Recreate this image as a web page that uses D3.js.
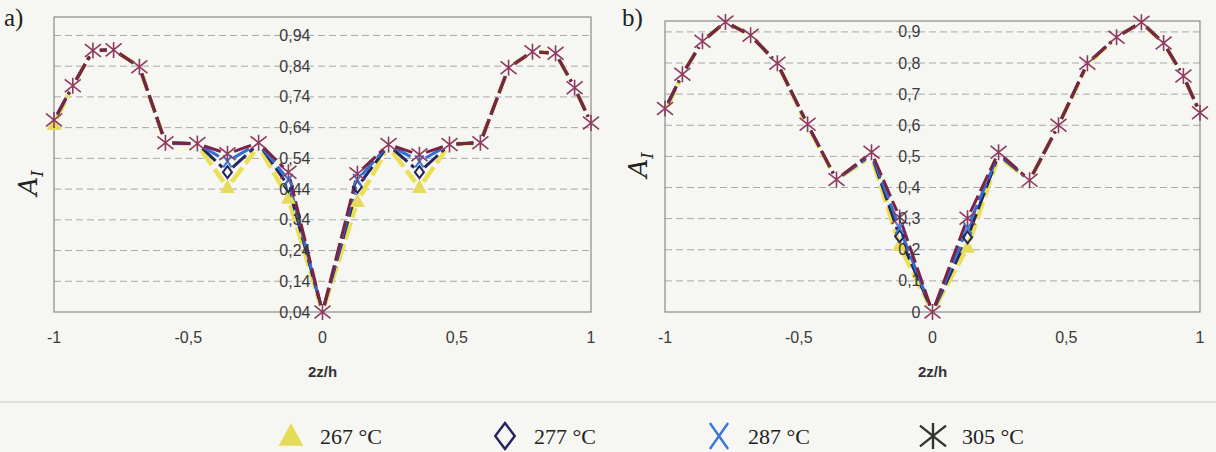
<!DOCTYPE html>
<html>
<head>
<meta charset="utf-8">
<script src="https://cdn.jsdelivr.net/npm/d3@7"></script>
<style>
  body { margin: 0; background: #f6f6f3; }
  svg { display: block; }
</style>
</head>
<body>
<svg width="1216" height="452"></svg>
<script>
// values
var temps = ["267 °C", "277 °C", "287 °C", "305 °C"];

// panel a)
var zA = [-1, -0.93, -0.855, -0.778, -0.682, -0.585, -0.466, -0.354, -0.238, -0.127, 0,
          0.13, 0.246, 0.361, 0.473, 0.588, 0.693, 0.782, 0.868, 0.939, 1];
var a267 = [0.65, 0.776, 0.891, 0.893, 0.838, 0.591, 0.585, 0.445, 0.58, 0.41, 0.04,
            0.40, 0.578, 0.445, 0.585, 0.591, 0.835, 0.887, 0.882, 0.77, 0.655];
var a277 = [0.662, 0.776, 0.891, 0.893, 0.838, 0.591, 0.588, 0.495, 0.588, 0.45, 0.04,
            0.447, 0.583, 0.495, 0.585, 0.591, 0.835, 0.887, 0.882, 0.77, 0.655];
var a287 = [0.664, 0.776, 0.891, 0.893, 0.838, 0.591, 0.588, 0.53, 0.589, 0.47, 0.04,
            0.47, 0.584, 0.53, 0.585, 0.591, 0.835, 0.887, 0.882, 0.77, 0.655];
var a305 = [0.665, 0.776, 0.891, 0.893, 0.838, 0.591, 0.588, 0.555, 0.591, 0.495, 0.04,
            0.49, 0.585, 0.552, 0.585, 0.591, 0.835, 0.887, 0.882, 0.77, 0.655];
var ticksA = [0.04, 0.14, 0.24, 0.34, 0.44, 0.54, 0.64, 0.74, 0.84, 0.94];
var tickLabA = ["0,04", "0,14", "0,24", "0,34", "0,44", "0,54", "0,64", "0,74", "0,84", "0,94"];

// panel b)
var zB = [-1, -0.935, -0.86, -0.774, -0.68, -0.58, -0.467, -0.359, -0.228, -0.123, 0,
          0.131, 0.247, 0.363, 0.471, 0.579, 0.688, 0.781, 0.864, 0.938, 1];
var b267 = [0.642, 0.764, 0.87, 0.932, 0.889, 0.799, 0.598, 0.426, 0.50, 0.214, 0,
            0.208, 0.50, 0.423, 0.6, 0.795, 0.883, 0.931, 0.864, 0.758, 0.64];
var b277 = [0.65, 0.764, 0.87, 0.932, 0.889, 0.799, 0.602, 0.426, 0.505, 0.243, 0,
            0.24, 0.505, 0.423, 0.6, 0.799, 0.883, 0.931, 0.864, 0.758, 0.64];
var b287 = [0.652, 0.764, 0.87, 0.932, 0.889, 0.799, 0.603, 0.426, 0.508, 0.27, 0,
            0.27, 0.508, 0.423, 0.6, 0.799, 0.883, 0.931, 0.864, 0.758, 0.64];
var b305 = [0.654, 0.764, 0.87, 0.932, 0.889, 0.799, 0.603, 0.426, 0.513, 0.304, 0,
            0.301, 0.513, 0.423, 0.6, 0.799, 0.883, 0.931, 0.864, 0.758, 0.64];
var ticksB = [0, 0.1, 0.2, 0.3, 0.4, 0.5, 0.6, 0.7, 0.8, 0.9];
var tickLabB = ["0", "0,1", "0,2", "0,3", "0,4", "0,5", "0,6", "0,7", "0,8", "0,9"];

var xTicks = [-1, -0.5, 0, 0.5, 1];
var xTickLab = ["-1", "-0,5", "0", "0,5", "1"];

var lineCol = ["#ebe052", "#25255f", "#3070d2", "#7b2245"];
var markCol = ["#e6da5a", "#23235c", "#3a78d8", "#8e3a5e"];

var svg = d3.select("svg");

// marker shapes, centred on 0,0
function markerPath(i, r) {
  if (i == 0) return "M0," + (-r) + "L" + (r * 0.95) + "," + (r * 0.75) + "L" + (-r * 0.95) + "," + (r * 0.75) + "Z";
  if (i == 1) return "M0," + (-r) + "L" + (r * 0.75) + ",0L0," + r + "L" + (-r * 0.75) + ",0Z";
  if (i == 2) return "M" + (-r * 0.7) + "," + (-r) + "L" + (r * 0.7) + "," + r + "M" + (-r * 0.7) + "," + r + "L" + (r * 0.7) + "," + (-r);
  return "M" + (-r) + "," + (-r * 0.8) + "L" + r + "," + (r * 0.8) + "M" + (-r) + "," + (r * 0.8) + "L" + r + "," + (-r * 0.8) + "M0," + (-r) + "L0," + r;
}

function drawPanel(p) {
  var x = d3.scaleLinear().domain([-1, 1]).range([p.left, p.right]);
  var y = d3.scaleLinear().domain(p.ydom).range([p.bottom, p.top]);
  var g = svg.append("g");
  var top = p.series[3];

  // dashed grid
  g.selectAll(".grid").data(p.ticks.slice(1)).enter().append("line")
      .attr("x1", p.left).attr("x2", p.right)
      .attr("y1", function(d) { return y(d); }).attr("y2", function(d) { return y(d); })
      .attr("stroke", "#a8a8a8").attr("stroke-width", 1).attr("stroke-dasharray", "7,4");

  // frame
  g.append("rect")
      .attr("x", p.left).attr("y", p.top)
      .attr("width", p.right - p.left).attr("height", p.bottom - p.top)
      .attr("fill", "none").attr("stroke", "#8a8a8a").attr("stroke-width", 1.2);

  // series, lines broken around markers
  p.series.forEach(function(vals, si) {
    var pts = vals.map(function(v, k) { return [x(p.z[k]), y(v)]; });
    var segs = [];
    for (var k = 0; k < pts.length - 1; k++) {
      var a = pts[k], b = pts[k + 1];
      var dx = b[0] - a[0], dy = b[1] - a[1], len = Math.sqrt(dx * dx + dy * dy);
      var cut = Math.min(7, len / 3);
      segs.push([a[0] + dx / len * cut, a[1] + dy / len * cut, b[0] - dx / len * cut, b[1] - dy / len * cut]);
    }
    g.selectAll(".s" + si).data(segs).enter().append("line")
        .attr("x1", function(d) { return d[0]; }).attr("y1", function(d) { return d[1]; })
        .attr("x2", function(d) { return d[2]; }).attr("y2", function(d) { return d[3]; })
        .attr("stroke", lineCol[si])
        .attr("stroke-width", si == 0 ? 4.5 : 3)
        .attr("stroke-dasharray", "18,5")
        .attr("stroke-linecap", "butt");
  });

  // lower-temperature markers only show where they leave the 305 °C curve
  p.series.forEach(function(vals, si) {
    var idx = d3.range(vals.length).filter(function(k) {
      return si == 3 || Math.abs(vals[k] - top[k]) > 0.015;
    });
    g.selectAll(".m" + si).data(idx).enter().append("path")
        .attr("transform", function(k) { return "translate(" + x(p.z[k]) + "," + y(vals[k]) + ")"; })
        .attr("d", markerPath(si, si == 3 ? 8 : 6))
        .attr("fill", si == 0 ? markCol[0] : "none")
        .attr("stroke", markCol[si])
        .attr("stroke-width", si == 3 ? 1.6 : 2);
  });

  // y tick labels sit on the z = 0 line
  g.selectAll(".yl").data(p.ticks).enter().append("text")
      .attr("x", x(0) - 12).attr("y", function(d) { return y(d); })
      .attr("dy", "0.35em").attr("text-anchor", "end")
      .attr("font-family", "Liberation Sans, Arial, sans-serif").attr("font-size", 16)
      .attr("fill", "#3a3a3a")
      .text(function(d, i) { return p.tickLab[i]; });

  g.selectAll(".xl").data(xTicks).enter().append("text")
      .attr("x", function(d) { return x(d); }).attr("y", 343)
      .attr("text-anchor", "middle")
      .attr("font-family", "Liberation Sans, Arial, sans-serif").attr("font-size", 16)
      .attr("fill", "#3a3a3a")
      .text(function(d, i) { return xTickLab[i]; });

  g.append("text")
      .attr("x", x(0)).attr("y", 377).attr("text-anchor", "middle")
      .attr("font-family", "Liberation Sans, Arial, sans-serif").attr("font-size", 15)
      .attr("font-weight", "bold").attr("fill", "#333")
      .text("2z/h");

  g.append("text")
      .attr("x", p.tagX).attr("y", 26)
      .attr("font-family", "Liberation Serif, serif").attr("font-size", 25).attr("fill", "#222")
      .text(p.tag);

  var yl = g.append("text")
      .attr("transform", "translate(" + p.ylabX + "," + p.ylabY + ") rotate(-90)")
      .attr("text-anchor", "middle")
      .attr("font-family", "DejaVu Serif, serif").attr("font-style", "italic")
      .attr("font-size", 26).attr("fill", "#222");
  yl.append("tspan").text("A");
  yl.append("tspan").attr("font-size", 16).attr("dy", 6).text("I");
}

drawPanel({
  left: 54, right: 591, top: 17, bottom: 312, ydom: [0.04, 1.0],
  ticks: ticksA, tickLab: tickLabA, z: zA, series: [a267, a277, a287, a305],
  tag: "a)", tagX: 4, ylabX: 37, ylabY: 183
});
drawPanel({
  left: 665, right: 1200, top: 21, bottom: 312, ydom: [0, 0.935],
  ticks: ticksB, tickLab: tickLabB, z: zB, series: [b267, b277, b287, b305],
  tag: "b)", tagX: 622, ylabX: 647, ylabY: 165
});

// page rule and legend below
svg.append("line").attr("x1", 0).attr("x2", 1216).attr("y1", 402).attr("y2", 402)
    .attr("stroke", "#c4c4c4").attr("stroke-width", 1.2);

var leg = svg.selectAll(".leg").data(temps).enter().append("g")
    .attr("transform", function(d, i) { return "translate(" + (291 + i * 214) + ",436)"; });
leg.append("path")
    .attr("d", function(d, i) { return markerPath(i, 13); })
    .attr("fill", function(d, i) { return i == 0 ? markCol[0] : "none"; })
    .attr("stroke", function(d, i) { return i == 3 ? "#333" : markCol[i]; })
    .attr("stroke-width", function(d, i) { return i == 0 ? 0 : 2.4; });
leg.append("text")
    .attr("x", 29).attr("y", 8)
    .attr("font-family", "Liberation Serif, serif").attr("font-size", 22).attr("fill", "#222")
    .text(function(d) { return d; });
</script>
</body>
</html>
